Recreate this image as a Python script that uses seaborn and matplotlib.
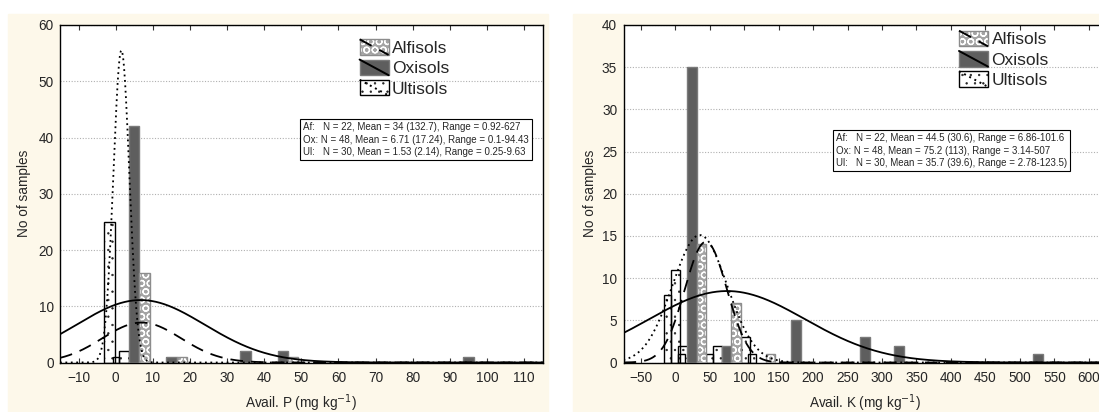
import numpy as np
import pandas as pd
import matplotlib
matplotlib.use("Agg")
import matplotlib.pyplot as plt
from matplotlib.patches import Rectangle
from matplotlib.lines import Line2D
from matplotlib.legend_handler import HandlerBase
import seaborn as sns

# ------------------------------------------------------------------ data
groups = ["Alfisols", "Oxisols", "Ultisols"]

# Avail. P panel (bar centres / counts)
p_alf_x = [7.8, 17.8, 47.8]
p_alf_n = [16, 1, 1]
p_oxi_x = [5, 15, 35, 45, 95]
p_oxi_n = [42, 1, 2, 2, 1]
p_ult_x = [-1.6, 2.2, 0.1]
p_ult_n = [25, 2, 1]
p_ult_w = [2.9, 2.8, 1.8]
p_bar_w = 2.8
# fitted normal curves: mean, sd, peak count (Alfisols, Oxisols, Ultisols)
p_mean = [7.0, 6.71, 1.53]
p_sd = [10.6, 17.24, 2.14]
p_peak = [7.1, 11.1, 55.5]
p_stats = ["Af:   N = 22, Mean = 34 (132.7), Range = 0.92-627",
           "Ox: N = 48, Mean = 6.71 (17.24), Range = 0.1-94.43",
           "Ul:   N = 30, Mean = 1.53 (2.14), Range = 0.25-9.63"]
p_xticks = list(range(-10, 111, 10))
p_yticks = list(range(0, 61, 10))
p_xlim = (-15, 115)
p_ylim = (0, 60)

# Avail. K panel
k_alf_x = [38, 88, 138]
k_alf_n = [14, 7, 1]
k_oxi_x = [24.5, 74.5, 175, 275, 325, 526]
k_oxi_n = [35, 2, 5, 3, 2, 1]
k_ult_x = [-11.2, 0.5, 11, 9.3, 49.6, 61, 101.3, 111.5]
k_ult_n = [8, 11, 2, 1, 1, 2, 3, 1]
k_ult_w = [9.7, 13.6, 14, 9.7, 9.7, 13, 13, 12]
k_bar_w = 13.8
k_mean = [44.5, 75.2, 35.7]
k_sd = [30.6, 113, 39.6]
k_peak = [14.3, 8.47, 15.1]
k_stats = ["Af:   N = 22, Mean = 44.5 (30.6), Range = 6.86-101.6",
           "Ox: N = 48, Mean = 75.2 (113), Range = 3.14-507",
           "Ul:   N = 30, Mean = 35.7 (39.6), Range = 2.78-123.5)"]
k_xticks = list(range(-50, 601, 50))
k_yticks = list(range(0, 41, 5))
k_xlim = (-75, 625)
k_ylim = (0, 40)

# ------------------------------------------------------------------ style
sns.set_theme(style="white")
plt.rcParams["font.family"] = ["Liberation Sans", "DejaVu Sans"]
plt.rcParams["hatch.linewidth"] = 0.9

CREAM = "#fdf8ea"
W, H = 1099, 412
fig = plt.figure(figsize=(W / 100, H / 100), dpi=100, facecolor="white")

fig.patches.append(Rectangle((8 / W, 0), (548 - 8) / W, 1 - 14 / H,
                             transform=fig.transFigure, color=CREAM, zorder=-10))
fig.patches.append(Rectangle((573 / W, 0), (W - 573) / W, 1 - 14 / H,
                             transform=fig.transFigure, color=CREAM, zorder=-10))

STY = {
    "Alfisols": dict(face="#a4a4a4", hatch="OO", hcol="white", edge="#8c8c8c",
                     hlw=0.9, ls=(0, (7, 4.5))),
    "Oxisols": dict(face="#5e5e5e", hatch=None, hcol="#5e5e5e", edge="#7a7a7a",
                    hlw=0.9, ls="-"),
    "Ultisols": dict(face="white", hatch="..", hcol="#222222", edge="black",
                     hlw=0.45, ls=(0, (1, 2))),
}


def set_hlw(patch, lw):
    if hasattr(patch, "set_hatch_linewidth"):
        patch.set_hatch_linewidth(lw)


def draw_bars(ax, xs, ns, ws, key, z):
    s = STY[key]
    with plt.rc_context({"hatch.linewidth": s["hlw"]}):
        bc = ax.bar(xs, ns, width=ws, color=s["face"], hatch=s["hatch"],
                    edgecolor=s["hcol"], linewidth=0, zorder=z)
    for p in bc:
        set_hlw(p, s["hlw"])
    ax.bar(xs, ns, width=ws, fill=False, edgecolor=s["edge"],
           linewidth=1.0, zorder=z + 0.1)


class SwatchHandler(HandlerBase):
    def __init__(self, key):
        super().__init__()
        self.key = key

    def create_artists(self, legend, orig_handle, xdescent, ydescent,
                       width, height, fontsize, trans):
        s = STY[self.key]
        x0, y0 = -xdescent, -ydescent
        with plt.rc_context({"hatch.linewidth": s["hlw"]}):
            a = Rectangle((x0, y0), width, height, facecolor=s["face"],
                          hatch=s["hatch"], edgecolor=s["hcol"], lw=0,
                          transform=trans)
        set_hlw(a, s["hlw"])
        b = Rectangle((x0, y0), width, height, fill=False,
                      edgecolor=s["edge"], lw=1.0, transform=trans)
        c = Line2D([x0, x0 + width], [y0 + height, y0], color="black",
                   lw=1.4, linestyle=s["ls"], transform=trans)
        return [a, b, c]


def panel(ax, xlim, ylim, xticks, yticks, bars, curves, stats, xlabel,
          leg_xy, box_xy, ylab_off):
    ax.set_facecolor("white")
    ax.set_xlim(*xlim)
    ax.set_ylim(*ylim)
    ax.set_xticks(xticks)
    ax.set_yticks(yticks)
    ax.tick_params(axis="x", which="both", direction="in", top=True,
                   bottom=True, length=3.5, width=0.8, color="#333333",
                   labelsize=9.8, pad=6)
    ax.tick_params(axis="y", length=0, labelsize=9.8, pad=4.5)
    for sp in ax.spines.values():
        sp.set_color("black")
        sp.set_linewidth(1.0)
    ax.yaxis.grid(True, linestyle=(0, (1, 1.5)), color="#b0b0b0", lw=0.8)
    ax.xaxis.grid(False)
    ax.set_axisbelow(True)

    for key, (xs, ns, ws) in bars:
        draw_bars(ax, xs, ns, ws, key, 2 if key == "Ultisols" else 3)

    xg = np.linspace(xlim[0], xlim[1], 1500)
    for key, (m, sd, pk) in zip(groups, curves):
        df = pd.DataFrame({"x": xg, "y": pk * np.exp(-0.5 * ((xg - m) / sd) ** 2)})
        sns.lineplot(data=df, x="x", y="y", ax=ax, color="black", lw=1.3,
                     linestyle=STY[key]["ls"], estimator=None, sort=False,
                     zorder=5)

    ax.set_xlabel(xlabel, fontsize=9.8)
    ax.set_ylabel("No of samples", fontsize=9.8)
    ax.xaxis.set_label_coords(0.5, -(403 - 362.5) / 337.5)
    ax.xaxis.label.set_va("center")
    ax.yaxis.set_label_coords(ylab_off, 0.5)
    ax.yaxis.label.set_va("center")

    handles = [Rectangle((0, 0), 1, 1) for _ in groups]
    hmap = {h: SwatchHandler(g) for h, g in zip(handles, groups)}
    fs = 12.5
    fpx = fs * 100 / 72
    ax.legend(handles, groups, handler_map=hmap, loc="upper left",
              bbox_to_anchor=(leg_xy[0] / W, 1 - leg_xy[1] / H),
              bbox_transform=fig.transFigure, frameon=False, fontsize=fs,
              handlelength=29 / fpx, handleheight=17.5 / fpx,
              labelspacing=3.5 / fpx, handletextpad=0.2, borderpad=0,
              borderaxespad=0)

    fig.text(box_xy[0] / W, 1 - box_xy[1] / H, "\n".join(stats),
             fontsize=7.0, ha="left", va="top", linespacing=1.33,
             bbox=dict(boxstyle="square,pad=0.33", fc="white", ec="black",
                       lw=0.8), zorder=10)


axL = fig.add_axes([60 / W, 1 - 362.5 / H, (542.7 - 60) / W, (362.5 - 25) / H])
axR = fig.add_axes([623.5 / W, 1 - 362.5 / H, (1106 - 623.5) / W, (362.5 - 25) / H])

panel(axL, p_xlim, p_ylim, p_xticks, p_yticks,
      [("Ultisols", (p_ult_x, p_ult_n, p_ult_w)),
       ("Oxisols", (p_oxi_x, p_oxi_n, p_bar_w)),
       ("Alfisols", (p_alf_x, p_alf_n, p_bar_w))],
      list(zip(p_mean, p_sd, p_peak)), p_stats,
      "Avail. P (mg kg$^{-1}$)", (359.6, 39.3), (303, 122), -35.5 / 482.7)

panel(axR, k_xlim, k_ylim, k_xticks, k_yticks,
      [("Ultisols", (k_ult_x, k_ult_n, k_ult_w)),
       ("Oxisols", (k_oxi_x, k_oxi_n, k_bar_w)),
       ("Alfisols", (k_alf_x, k_alf_n, k_bar_w))],
      list(zip(k_mean, k_sd, k_peak)), k_stats,
      "Avail. K (mg kg$^{-1}$)", (959, 30.7), (836, 133), -33.8 / 482.5)

fig.savefig("out.png", dpi=100, facecolor="white")
